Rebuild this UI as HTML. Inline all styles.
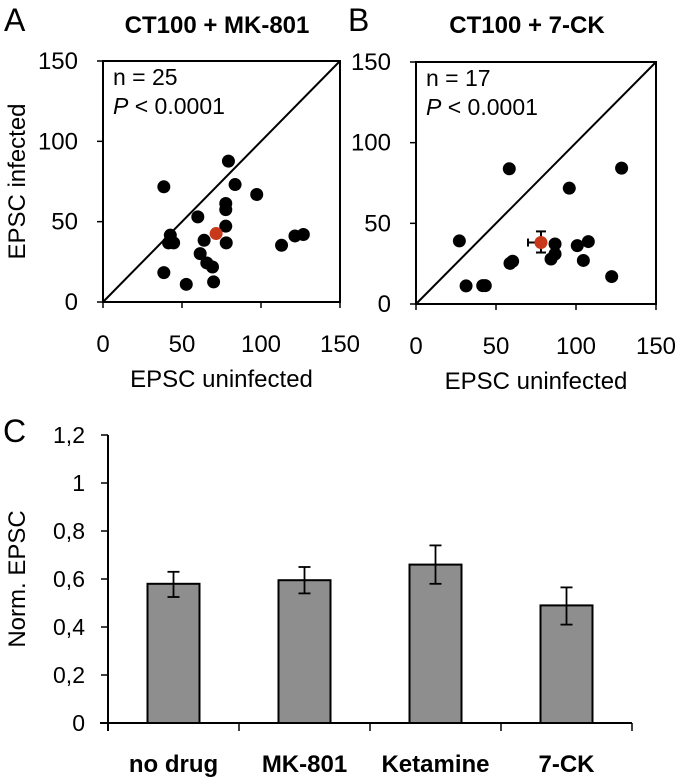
<!DOCTYPE html>
<html><head><meta charset="utf-8"><style>
html,body{margin:0;padding:0;background:#fff;}
svg{display:block;font-family:"Liberation Sans",Arial,sans-serif;}
</style></head><body>
<svg id="fig" width="678" height="780" viewBox="0 0 678 780">
<g id="panelA"></g>
<g id="panelB"></g>
<g id="panelC"></g>
</svg>
<script>
// Panel A data
const aX = [38.5,79.4,83.6,97.3,77.7,77.7,60,77.7,42.6,41.5,44.7,64,78,61.5,65.7,69.3,70,52.7,38.5,113,121.5,126.8];
const aY = [71.7,87.7,73.1,66.9,61.3,57.5,53,47.2,41.6,36.8,36.8,38.4,36.8,30.1,24.3,21.8,12.5,11,18.3,35.3,41.1,42];
const aMean = [71.6,42.6];
// Panel B data
const bX = [58.3,128.5,95.8,27.1,31.3,41.7,43.3,58.75,60.4,86.9,86.9,84.4,100.8,107.7,104.6,122.3];
const bY = [83.8,84.2,71.8,39.1,11.2,11.4,11.4,25.2,26.5,37.2,31,27.9,36.2,38.7,27,17];
const bMean = [78.1,38.1];
const bMeanErrX = [70,82];
const bMeanErrY = [31.9,45];
const scatterTicks = [0,50,100,150];
// Panel C data
const categories = ["no drug","MK-801","Ketamine","7-CK"];
const barValues = [0.58,0.595,0.66,0.49];
const errLow = [0.525,0.54,0.58,0.41];
const errHigh = [0.63,0.65,0.74,0.565];
const cTicks = [0,0.2,0.4,0.6,0.8,1,1.2];
const cTickLabels = ["0","0,2","0,4","0,6","0,8","1","1,2"];

const NS="http://www.w3.org/2000/svg";
function mk(parent,tag,attrs,text){const e=document.createElementNS(NS,tag);for(const k in attrs)e.setAttribute(k,attrs[k]);if(text!==undefined)e.textContent=text;parent.appendChild(e);return e;}

function scatter(g,o){
  const sx=v=>o.x0+v/150*o.w, sy=v=>o.y0-v/150*o.h;
  let t;
  t=mk(g,'text',{x:o.letterX,y:31,'font-size':32},o.letter);
  
  
  t=mk(g,'text',{x:o.titleX,y:33,'font-size':24,'font-weight':'bold','text-anchor':'middle'},o.title);
  
  
  let r=mk(g,'rect',{x:o.x0,y:o.y0-o.h,width:o.w,height:o.h,fill:'none',stroke:'#000','stroke-width':2});
  
  
  let l=mk(g,'line',{x1:sx(0),y1:sy(0),x2:sx(150),y2:sy(150),stroke:'#000','stroke-width':2});
  
  
  scatterTicks.forEach(v=>{
    let tk=mk(g,'line',{x1:o.x0-6,x2:o.x0,y1:sy(v),y2:sy(v),stroke:'#000','stroke-width':1.5});
    
    
    let tl=mk(g,'text',{x:o.x0-25,y:sy(v)+8,'font-size':24,'text-anchor':'end'},String(v));
    
    
    let tx=mk(g,'line',{x1:sx(v),x2:sx(v),y1:o.y0,y2:o.y0+6,stroke:'#000','stroke-width':1.5});
    
    
    let xl=mk(g,'text',{x:sx(v),y:o.y0+50,'font-size':24,'text-anchor':'middle'},String(v));
    
    
  });
  t=mk(g,'text',{x:o.x0+o.w/2,y:o.y0+85,'font-size':24,'text-anchor':'middle'},'EPSC uninfected');
  
  
  if(o.yTitle){
    t=mk(g,'text',{x:0,y:0,'font-size':24,'text-anchor':'middle',transform:'translate(25,'+(o.y0-o.h/2)+') rotate(-90)'},'EPSC infected');
    
    
  }
  t=mk(g,'text',{x:o.x0+10,y:o.y0-o.h+24,'font-size':23},o.n);
  
  
  t=mk(g,'text',{x:o.x0+10,y:o.y0-o.h+53,'font-size':23});
  
  
  mk(t,'tspan',{'font-style':'italic'},'P');
  mk(t,'tspan',{},' < 0.0001');
  o.xs.forEach((v,i)=>{
    let c=mk(g,'circle',{cx:sx(v),cy:sy(o.ys[i]),r:6.5,fill:'#000'});
    
    
  });
  if(o.errX){
    const ex=[[sx(o.errX[0]),sy(o.mean[1]),sx(o.errX[1]),sy(o.mean[1])],[sx(o.errX[0]),sy(o.mean[1])-4,sx(o.errX[0]),sy(o.mean[1])+4],
      [sx(o.mean[0]),sy(o.errY[0]),sx(o.mean[0]),sy(o.errY[1])],[sx(o.mean[0])-5,sy(o.errY[0]),sx(o.mean[0])+5,sy(o.errY[0])],[sx(o.mean[0])-5,sy(o.errY[1]),sx(o.mean[0])+5,sy(o.errY[1])]];
    ex.forEach(a=>{
      let e=mk(g,'line',{x1:a[0],y1:a[1],x2:a[2],y2:a[3],stroke:'#000','stroke-width':2});
      
      
    });
  }
  let m=mk(g,'circle',{cx:sx(o.mean[0]),cy:sy(o.mean[1]),r:6.5,fill:'#c8381a'});
  
  
}

scatter(document.getElementById('panelA'),{x0:103,y0:302,w:237,h:241,letter:'A',letterX:4,title:'CT100 + MK-801',titleX:217,yTitle:true,n:'n = 25',xs:aX,ys:aY,mean:aMean});
scatter(document.getElementById('panelB'),{x0:416,y0:304,w:240,h:242,letter:'B',letterX:348,title:'CT100 + 7-CK',titleX:527,yTitle:false,n:'n = 17',xs:bX,ys:bY,mean:bMean,errX:bMeanErrX,errY:bMeanErrY});

(function(){
  const g=document.getElementById('panelC');
  const x0=108,y0=723,plotH=288,cw=131,bw=52;
  const sy=v=>y0-v/1.2*plotH;
  let t=mk(g,'text',{x:3,y:442,'font-size':32},'C');
  
  
  let ax=mk(g,'line',{x1:x0,y1:sy(1.2),x2:x0,y2:y0+8,stroke:'#000','stroke-width':2});
  
  
  ax=mk(g,'line',{x1:x0-8,y1:y0,x2:x0+cw*4,y2:y0,stroke:'#000','stroke-width':2});
  
  
  cTicks.forEach((v,i)=>{
    let tk=mk(g,'line',{x1:x0-7,x2:x0,y1:sy(v),y2:sy(v),stroke:'#000','stroke-width':1.5});
    
    
    let tl=mk(g,'text',{x:85,y:sy(v)+8,'font-size':23,'text-anchor':'end'},cTickLabels[i]);
    
    
  });
  for(let i=1;i<=4;i++){
    let tk=mk(g,'line',{x1:x0+cw*i,x2:x0+cw*i,y1:y0,y2:y0+8,stroke:'#000','stroke-width':1.5});
    
    
  }
  t=mk(g,'text',{x:0,y:0,'font-size':24,'text-anchor':'middle',transform:'translate(25,'+(y0-plotH/2)+') rotate(-90)'},'Norm. EPSC');
  
  
  categories.forEach((c,i)=>{
    const cx=x0+cw*(i+0.5);
    let b=mk(g,'rect',{x:cx-bw/2,y:sy(barValues[i]),width:bw,height:y0-sy(barValues[i]),fill:'#8e8e8e',stroke:'#000','stroke-width':2});
    
    
    [[cx,sy(errLow[i]),cx,sy(errHigh[i])],[cx-6,sy(errLow[i]),cx+6,sy(errLow[i])],[cx-6,sy(errHigh[i]),cx+6,sy(errHigh[i])]].forEach(a=>{
      let e=mk(g,'line',{x1:a[0],y1:a[1],x2:a[2],y2:a[3],stroke:'#000','stroke-width':1.8});
      
      
    });
    let l=mk(g,'text',{x:cx,y:772,'font-size':24,'font-weight':'bold','text-anchor':'middle'},c);
    
    
  });
})();
</script>
</body></html>
